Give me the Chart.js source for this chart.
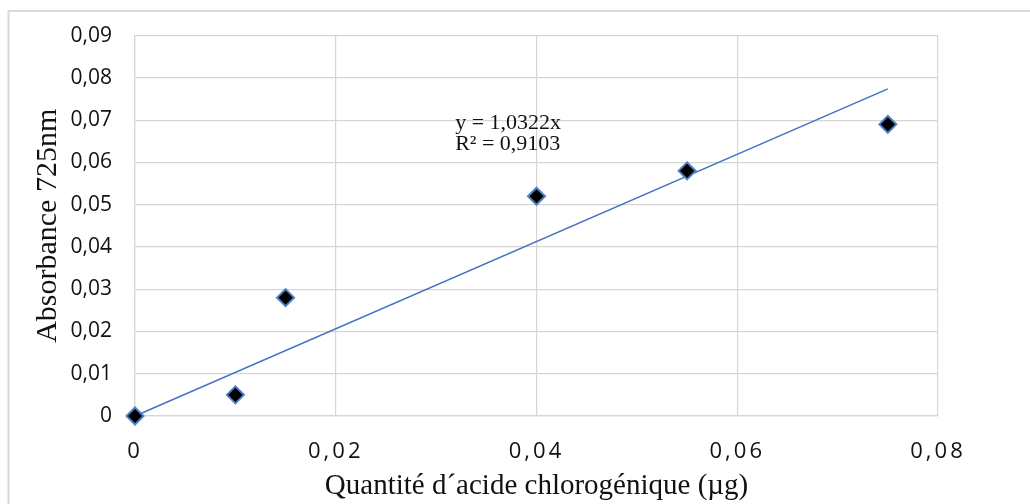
<!DOCTYPE html>
<html>
<head>
<meta charset="utf-8">
<script src="https://cdn.jsdelivr.net/npm/chart.js@4/dist/chart.umd.min.js"></script>
<style>
  html, body { margin: 0; padding: 0; background: #fff; }
  canvas { display: block; }
</style>
</head>
<body>
<canvas id="c" width="1030" height="504"></canvas>
<script>
// ---- data ----
const quantite = [0, 0.01, 0.015, 0.04, 0.055, 0.075];      // µg
const absorbance = [0, 0.005, 0.028, 0.052, 0.058, 0.069];  // A 725nm
const trendX = [0, 0.075];
const trendY = [0, 0.0774];
const equationLines = ['y = 1,0322x', 'R² = 0,9103'];
const xTitle = 'Quantité d´acide chlorogénique (µg)';
const yTitle = 'Absorbance 725nm';

const fmt = v => (Math.abs(v) < 1e-9 ? '0' : v.toFixed(2).replace('.', ','));

const scatterPts = quantite.map((x, i) => ({ x, y: absorbance[i] }));
const trendPts = trendX.map((x, i) => ({ x, y: trendY[i] }));

const frame = {
  id: 'frame',
  beforeDraw(chart) {
    const c = chart.ctx;
    c.save();
    c.fillStyle = '#fff';
    c.fillRect(0, 0, chart.width, chart.height);
    c.strokeStyle = '#d9d9d9';
    c.lineWidth = 2;
    c.beginPath();
    c.moveTo(8.5, chart.height + 2);
    c.lineTo(8.5, 11);
    c.lineTo(chart.width + 2, 11);
    c.stroke();
    c.restore();
  }
};

const equation = {
  id: 'equation',
  afterDatasetsDraw(chart, args, opts) {
    const c = chart.ctx;
    const x = chart.scales.x.getPixelForValue(opts.x);
    const y = chart.scales.y.getPixelForValue(opts.y);
    c.save();
    c.font = '22px "Liberation Serif", "Times New Roman", serif';
    c.fillStyle = '#111';
    c.textAlign = 'left';
    c.textBaseline = 'middle';
    opts.lines.forEach((t, i) => c.fillText(t, x, y + i * 21));
    c.restore();
  }
};

new Chart(document.getElementById('c'), {
  type: 'scatter',
  data: {
    datasets: [
      {
        label: 'Absorbance',
        data: scatterPts,
        pointStyle: 'rectRot',
        pointRadius: 8.5,
        pointHoverRadius: 8.5,
        backgroundColor: '#000',
        borderColor: '#4f7fc6',
        borderWidth: 2,
        order: 0,
        clip: false
      },
      {
        label: 'Tendance',
        type: 'line',
        data: trendPts,
        borderColor: '#4472C4',
        borderWidth: 1.5,
        pointRadius: 0,
        fill: false,
        order: 1,
        clip: false
      }
    ]
  },
  options: {
    responsive: false,
    animation: false,
    events: [],
    layout: { autoPadding: false, padding: { top: 33, right: 92, left: 0, bottom: 0 } },
    plugins: {
      legend: { display: false },
      tooltip: { enabled: false },
      equation: { x: 0.0319, y: 0.0692, lines: equationLines }
    },
    scales: {
      x: {
        type: 'linear',
        min: 0, max: 0.08,
        ticks: {
          stepSize: 0.02,
          callback: v => fmt(v),
          padding: 23,
          color: '#111',
          font: { family: '"Open Sans", sans-serif', size: 22 },
          maxRotation: 0
        },
        grid: { color: '#d6d6d6', lineWidth: 1.2, drawTicks: false },
        border: { color: '#d6d6d6', width: 1.2 },
        title: {
          display: true,
          text: xTitle,
          color: '#111',
          font: { family: '"Liberation Serif", "Times New Roman", serif', size: 29 },
          padding: { top: 0, bottom: 0 }
        },
        afterFit: s => { s.height = 88; },
        afterUpdate: s => {
          if (!s._spaced) {
            const orig = s.drawLabels;
            s.drawLabels = function (a) {
              const c = this.ctx;
              c.save();
              c.letterSpacing = '3px';
              orig.call(this, a);
              c.restore();
            };
            s._spaced = true;
          }
        }
      },
      y: {
        type: 'linear',
        min: 0, max: 0.09,
        ticks: {
          stepSize: 0.01,
          callback: v => fmt(v),
          padding: 23,
          color: '#111',
          font: { family: '"Open Sans", sans-serif', size: 21 }
        },
        grid: { color: '#d6d6d6', lineWidth: 1.2, drawTicks: false },
        border: { color: '#d6d6d6', width: 1.2 },
        title: {
          display: true,
          text: yTitle,
          color: '#111',
          font: { family: '"Liberation Serif", "Times New Roman", serif', size: 30 },
          padding: { top: 30, bottom: 0 }
        },
        afterFit: s => { s.width = 135; }
      }
    }
  },
  plugins: [frame, equation]
});
</script>
</body>
</html>
